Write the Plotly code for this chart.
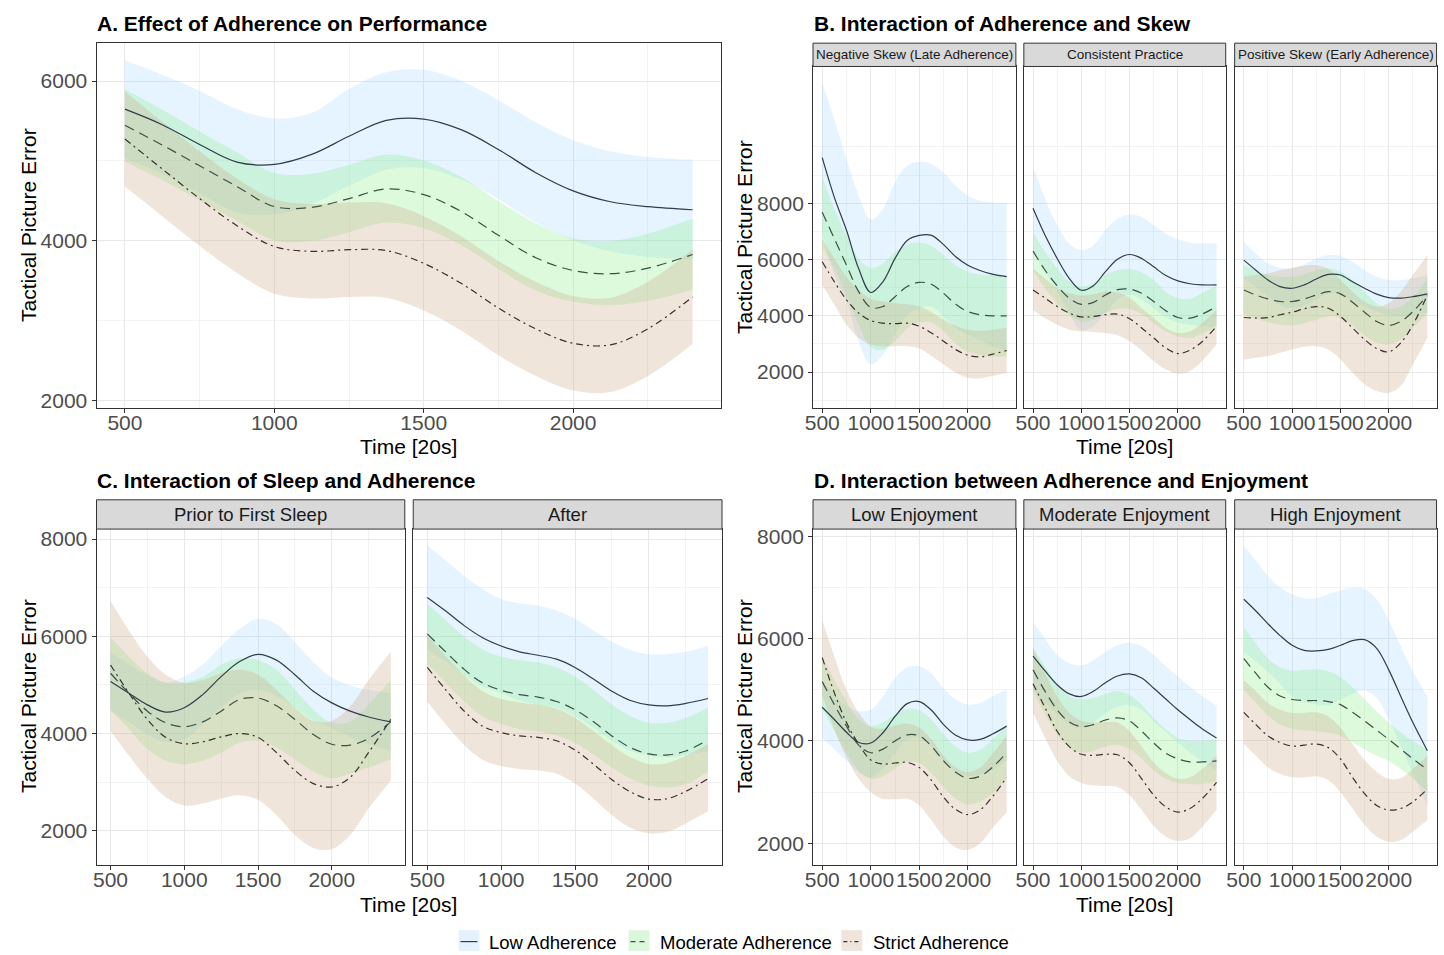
import plotly.graph_objects as go

W, H = 1444, 955

# ---------------- data ----------------
X = [500, 625, 750, 875, 1000, 1125, 1250, 1375, 1500, 1625, 1750, 1875, 2000, 2125, 2250, 2400]
SERIES = ["Low Adherence", "Moderate Adherence", "Strict Adherence"]
X_TICKS = [500, 1000, 1500, 2000]

# Panel A
A_low_fit = [5648, 5454, 5206, 4986, 4957, 5082, 5309, 5508, 5524, 5392, 5144, 4854, 4626, 4490, 4428, 4390]
A_low_hi = [6261, 6080, 5880, 5650, 5530, 5600, 5900, 6110, 6140, 6000, 5760, 5480, 5260, 5120, 5050, 5020]
A_low_lo = [5030, 4840, 4590, 4360, 4330, 4460, 4690, 4890, 4910, 4770, 4520, 4230, 4010, 3870, 3800, 3770]
A_mod_fit = [5446, 5200, 4940, 4680, 4430, 4420, 4530, 4650, 4580, 4370, 4070, 3790, 3630, 3590, 3660, 3830]
A_mod_hi = [5897, 5640, 5370, 5110, 4850, 4840, 4950, 5080, 5010, 4800, 4500, 4220, 4030, 4000, 4090, 4280]
A_mod_lo = [4990, 4760, 4510, 4250, 4010, 4000, 4110, 4230, 4160, 3950, 3650, 3380, 3240, 3200, 3250, 3390]
A_str_fit = [5276, 4900, 4530, 4190, 3930, 3870, 3890, 3880, 3720, 3470, 3160, 2900, 2720, 2700, 2900, 3300]
A_str_hi = [5870, 5490, 5120, 4780, 4520, 4460, 4480, 4470, 4310, 4060, 3750, 3490, 3310, 3290, 3490, 3890]
A_str_lo = [4680, 4310, 3940, 3600, 3340, 3280, 3300, 3290, 3130, 2880, 2570, 2310, 2130, 2110, 2310, 2710]

# Panel B - Negative Skew (Late Adherence)
B1_low_fit = [9620, 8210, 7040, 5680, 4830, 5210, 6040, 6680, 6860, 6860, 6530, 6100, 5800, 5610, 5480, 5390]
B1_low_hi = [12270, 10980, 9560, 8270, 7420, 7800, 8740, 9330, 9470, 9390, 9090, 8620, 8270, 8090, 8030, 8010]
B1_low_lo = [6970, 5440, 4520, 3090, 2280, 2620, 3340, 4030, 4250, 4330, 3970, 3580, 3330, 3130, 2930, 2770]
B1_mod_fit = [7680, 6740, 5800, 4860, 4300, 4330, 4680, 5040, 5190, 5120, 4800, 4410, 4150, 4040, 4000, 4000]
B1_mod_hi = [8920, 7800, 6860, 6040, 5710, 5860, 6270, 6530, 6600, 6480, 6150, 5800, 5570, 5470, 5450, 5450]
B1_mod_lo = [6440, 5680, 4740, 3680, 2890, 2800, 3090, 3550, 3780, 3760, 3450, 3020, 2730, 2610, 2550, 2550]
B1_str_fit = [5920, 5210, 4570, 4100, 3830, 3740, 3720, 3740, 3630, 3390, 3100, 2800, 2600, 2540, 2630, 2770]
B1_str_hi = [6740, 6040, 5390, 4920, 4600, 4510, 4450, 4410, 4330, 4130, 3860, 3650, 3510, 3470, 3510, 3580]
B1_str_lo = [5100, 4390, 3680, 3210, 2980, 2920, 2920, 2920, 2840, 2570, 2270, 1980, 1800, 1770, 1860, 1980]

# Panel B - Consistent Practice
B2_low_fit = [7820, 6860, 6040, 5330, 4910, 5070, 5570, 6010, 6180, 6040, 5740, 5430, 5240, 5140, 5100, 5100]
B2_low_hi = [9300, 8150, 7210, 6570, 6330, 6510, 7040, 7450, 7600, 7510, 7210, 6920, 6720, 6600, 6570, 6570]
B2_low_lo = [6340, 5570, 4870, 4090, 3490, 3630, 4100, 4570, 4760, 4570, 4270, 3940, 3760, 3680, 3630, 3630]
B2_mod_fit = [6300, 5620, 5070, 4630, 4410, 4480, 4740, 4930, 4950, 4800, 4510, 4180, 3940, 3920, 4060, 4330]
B2_mod_hi = [6980, 6270, 5680, 5210, 5040, 5150, 5470, 5620, 5660, 5540, 5270, 4860, 4630, 4600, 4800, 5100]
B2_mod_lo = [5620, 4980, 4450, 4040, 3800, 3860, 4100, 4250, 4250, 4060, 3740, 3450, 3270, 3210, 3360, 3620]
B2_str_fit = [4920, 4630, 4330, 4100, 3960, 3980, 4040, 4060, 3900, 3570, 3210, 2860, 2660, 2780, 3080, 3630]
B2_str_hi = [5680, 5330, 4980, 4800, 4720, 4770, 4860, 4830, 4630, 4270, 3920, 3570, 3390, 3450, 3740, 4210]
B2_str_lo = [4210, 3920, 3680, 3510, 3450, 3430, 3390, 3310, 3100, 2770, 2390, 2100, 1940, 2040, 2390, 2980]

# Panel B - Positive Skew (Early Adherence)
B3_low_fit = [5980, 5620, 5270, 5040, 4980, 5100, 5310, 5470, 5450, 5210, 4980, 4770, 4650, 4630, 4680, 4780]
B3_low_hi = [6620, 6210, 5860, 5710, 5680, 5830, 6040, 6150, 6130, 5920, 5620, 5390, 5270, 5270, 5330, 5450]
B3_low_lo = [5340, 5030, 4680, 4370, 4280, 4370, 4580, 4790, 4770, 4500, 4340, 4150, 4030, 3990, 4030, 4110]
B3_mod_fit = [4920, 4740, 4600, 4510, 4510, 4600, 4740, 4860, 4780, 4480, 4130, 3800, 3660, 3800, 4150, 4720]
B3_mod_hi = [5800, 5620, 5450, 5390, 5390, 5470, 5620, 5680, 5570, 5270, 4860, 4450, 4250, 4330, 4680, 5330]
B3_mod_lo = [4040, 3900, 3780, 3680, 3660, 3740, 3860, 3980, 3920, 3660, 3310, 3040, 2980, 3160, 3570, 4100]
B3_str_fit = [3940, 3920, 3940, 4040, 4130, 4250, 4330, 4270, 3980, 3570, 3160, 2840, 2720, 3040, 3680, 4740]
B3_str_hi = [5390, 5450, 5510, 5620, 5710, 5780, 5800, 5660, 5270, 4860, 4510, 4330, 4450, 4860, 5450, 6150]
B3_str_lo = [2450, 2510, 2570, 2690, 2800, 2900, 2920, 2800, 2450, 1980, 1570, 1330, 1270, 1510, 2270, 3210]

# Panel C - Prior to First Sleep
C1_low_fit = [5070, 4830, 4590, 4440, 4530, 4800, 5170, 5480, 5630, 5510, 5210, 4870, 4630, 4460, 4340, 4240]
C1_low_hi = [5680, 5430, 5200, 5060, 5170, 5420, 5800, 6150, 6360, 6250, 5880, 5470, 5150, 4990, 4900, 4830]
C1_low_lo = [4460, 4230, 3980, 3820, 3890, 4180, 4540, 4810, 4900, 4770, 4540, 4270, 4110, 3930, 3780, 3650]
C1_mod_fit = [5240, 4830, 4460, 4220, 4140, 4240, 4460, 4700, 4730, 4570, 4290, 3980, 3780, 3760, 3900, 4240]
C1_mod_hi = [5990, 5580, 5240, 5040, 5050, 5170, 5410, 5550, 5510, 5310, 4900, 4490, 4220, 4240, 4590, 5100]
C1_mod_lo = [4490, 4090, 3680, 3440, 3370, 3440, 3610, 3810, 3850, 3710, 3460, 3220, 3080, 3170, 3300, 3470]
C1_str_fit = [5410, 4830, 4290, 3920, 3790, 3830, 3930, 4000, 3920, 3610, 3240, 2970, 2900, 3100, 3610, 4290]
C1_str_hi = [6730, 6120, 5580, 5210, 5040, 5100, 5240, 5310, 5210, 4900, 4530, 4260, 4260, 4560, 5100, 5680]
C1_str_lo = [4050, 3540, 3070, 2690, 2520, 2560, 2660, 2730, 2630, 2320, 1910, 1640, 1620, 1910, 2460, 3030]

# Panel C - After
C2_low_fit = [6800, 6520, 6220, 5970, 5800, 5680, 5610, 5530, 5360, 5120, 4870, 4680, 4590, 4570, 4620, 4720]
C2_low_hi = [7870, 7560, 7240, 6970, 6770, 6680, 6630, 6530, 6360, 6120, 5890, 5720, 5630, 5630, 5680, 5800]
C2_low_lo = [5730, 5480, 5200, 4970, 4830, 4680, 4590, 4530, 4360, 4120, 3850, 3640, 3550, 3510, 3560, 3640]
C2_mod_fit = [6050, 5680, 5320, 5040, 4890, 4800, 4750, 4660, 4490, 4240, 3950, 3710, 3580, 3560, 3640, 3870]
C2_mod_hi = [6670, 6330, 5990, 5730, 5580, 5510, 5460, 5360, 5170, 4900, 4590, 4360, 4220, 4220, 4320, 4530]
C2_mod_lo = [5440, 5040, 4660, 4350, 4200, 4090, 4040, 3960, 3810, 3570, 3300, 3070, 2930, 2890, 2960, 3210]
C2_str_fit = [5360, 4900, 4460, 4150, 4020, 3950, 3920, 3850, 3660, 3370, 3050, 2800, 2650, 2660, 2810, 3070]
C2_str_hi = [6020, 5590, 5190, 4870, 4710, 4640, 4590, 4510, 4320, 4050, 3760, 3510, 3370, 3390, 3540, 3780]
C2_str_lo = [4660, 4190, 3760, 3460, 3330, 3270, 3240, 3170, 2970, 2660, 2320, 2060, 1950, 1980, 2150, 2400]

# Panel D - Low Enjoyment
D1_low_fit = [4660, 4420, 4170, 3970, 3960, 4160, 4480, 4730, 4770, 4600, 4320, 4110, 4020, 4030, 4130, 4290]
D1_low_hi = [5190, 4900, 4680, 4580, 4610, 4870, 5230, 5440, 5460, 5320, 5030, 4810, 4710, 4740, 4870, 5000]
D1_low_lo = [4060, 3840, 3610, 3390, 3290, 3450, 3770, 4030, 4060, 3890, 3610, 3400, 3320, 3340, 3450, 3610]
D1_mod_fit = [5160, 4710, 4290, 3920, 3770, 3840, 4000, 4120, 4100, 3900, 3610, 3390, 3270, 3310, 3480, 3770]
D1_mod_hi = [5650, 5190, 4770, 4420, 4290, 4360, 4520, 4630, 4600, 4420, 4130, 3890, 3770, 3830, 4020, 4300]
D1_mod_lo = [4650, 4190, 3770, 3420, 3260, 3310, 3460, 3590, 3570, 3370, 3100, 2870, 2760, 2810, 2970, 3260]
D1_str_fit = [5630, 4940, 4360, 3940, 3630, 3550, 3570, 3580, 3480, 3230, 2900, 2660, 2560, 2650, 2900, 3290]
D1_str_hi = [6360, 5650, 5000, 4550, 4280, 4240, 4300, 4340, 4260, 4030, 3710, 3480, 3390, 3480, 3740, 4100]
D1_str_lo = [4900, 4230, 3680, 3260, 3000, 2870, 2860, 2870, 2740, 2450, 2130, 1920, 1870, 2000, 2290, 2600]

# Panel D - Moderate Enjoyment
D2_low_fit = [5660, 5370, 5100, 4920, 4870, 4970, 5140, 5270, 5310, 5230, 5030, 4820, 4610, 4420, 4240, 4060]
D2_low_hi = [6320, 6000, 5680, 5520, 5480, 5580, 5740, 5870, 5920, 5850, 5680, 5460, 5260, 5060, 4880, 4690]
D2_low_lo = [5000, 4740, 4520, 4320, 4260, 4360, 4540, 4670, 4700, 4610, 4380, 4180, 3960, 3780, 3600, 3430]
D2_mod_fit = [5390, 4970, 4610, 4370, 4280, 4320, 4410, 4450, 4390, 4190, 3960, 3760, 3650, 3590, 3590, 3610]
D2_mod_hi = [5830, 5450, 5120, 4880, 4810, 4840, 4920, 4970, 4900, 4710, 4450, 4230, 4060, 4000, 4000, 4030]
D2_mod_lo = [4970, 4520, 4130, 3870, 3770, 3810, 3890, 3920, 3850, 3650, 3420, 3260, 3180, 3160, 3160, 3210]
D2_str_fit = [5120, 4650, 4190, 3890, 3740, 3720, 3740, 3730, 3570, 3260, 2940, 2710, 2610, 2680, 2870, 3190]
D2_str_hi = [5810, 5320, 4870, 4550, 4390, 4360, 4370, 4360, 4190, 3890, 3580, 3370, 3260, 3290, 3450, 3710]
D2_str_lo = [4550, 4060, 3610, 3310, 3180, 3130, 3120, 3100, 2940, 2650, 2340, 2130, 2050, 2100, 2320, 2650]

# Panel D - High Enjoyment
D3_low_fit = [6770, 6540, 6290, 6060, 5870, 5770, 5760, 5790, 5870, 5960, 5980, 5810, 5390, 4870, 4360, 3810]
D3_low_hi = [7810, 7520, 7230, 7000, 6870, 6790, 6790, 6870, 6940, 6990, 6970, 6770, 6360, 5840, 5360, 4870]
D3_low_lo = [5740, 5550, 5350, 5130, 4870, 4760, 4720, 4700, 4810, 4920, 4990, 4840, 4420, 3900, 3360, 2740]
D3_mod_fit = [5610, 5320, 5050, 4880, 4810, 4790, 4790, 4770, 4710, 4560, 4390, 4210, 4030, 3840, 3650, 3440]
D3_mod_hi = [6230, 5900, 5610, 5440, 5370, 5390, 5400, 5360, 5250, 5050, 4820, 4580, 4360, 4170, 4000, 3840]
D3_mod_lo = [5000, 4740, 4500, 4320, 4240, 4210, 4190, 4160, 4100, 3970, 3840, 3710, 3610, 3450, 3270, 3000]
D3_str_fit = [4560, 4320, 4100, 3970, 3900, 3920, 3940, 3870, 3650, 3290, 2970, 2740, 2650, 2680, 2810, 3060]
D3_str_hi = [5190, 4970, 4740, 4610, 4550, 4550, 4560, 4480, 4260, 3940, 3630, 3400, 3260, 3270, 3450, 3710]
D3_str_lo = [3940, 3710, 3480, 3360, 3290, 3290, 3310, 3230, 3000, 2680, 2360, 2130, 2030, 2060, 2230, 2450]

# ---------------- styling ----------------
FONT = "Liberation Sans, Arial, Helvetica, sans-serif"
FILL = ["rgba(135,206,250,0.22)", "rgba(144,238,144,0.30)", "rgba(205,170,135,0.30)"]
LINE_COL = ["#2f3d4c", "#3a5242", "#3a302a"]
LINE_DASH = ["solid", "10px,6px", "7px,4px,2px,4px"]
TICK_SIZE = 21

panels = [
    ([(A_low_fit, A_low_lo, A_low_hi), (A_mod_fit, A_mod_lo, A_mod_hi), (A_str_fit, A_str_lo, A_str_hi)],
     (89, 717), (39, 407.5), (1909, 6480), [2000, 4000, 6000], [3000, 5000], True),
    ([(B1_low_fit, B1_low_lo, B1_low_hi), (B1_mod_fit, B1_mod_lo, B1_mod_hi), (B1_str_fit, B1_str_lo, B1_str_hi)],
     (809.5, 1013.5), (63, 407), (740, 12860), [2000, 4000, 6000, 8000], [1000, 3000, 5000, 7000, 9000, 10000], True),
    ([(B2_low_fit, B2_low_lo, B2_low_hi), (B2_mod_fit, B2_mod_lo, B2_mod_hi), (B2_str_fit, B2_str_lo, B2_str_hi)],
     (1021.5, 1224.5), (63, 407), (740, 12860), [2000, 4000, 6000, 8000], [1000, 3000, 5000, 7000, 9000, 10000], False),
    ([(B3_low_fit, B3_low_lo, B3_low_hi), (B3_mod_fit, B3_mod_lo, B3_mod_hi), (B3_str_fit, B3_str_lo, B3_str_hi)],
     (1233.5, 1436.5), (63, 407), (740, 12860), [2000, 4000, 6000, 8000], [1000, 3000, 5000, 7000, 9000, 10000], False),
    ([(C1_low_fit, C1_low_lo, C1_low_hi), (C1_mod_fit, C1_mod_lo, C1_mod_hi), (C1_str_fit, C1_str_lo, C1_str_hi)],
     (89, 399), (529.5, 868), (1300, 8207), [2000, 4000, 6000, 8000], [3000, 5000, 7000], True),
    ([(C2_low_fit, C2_low_lo, C2_low_hi), (C2_mod_fit, C2_mod_lo, C2_mod_hi), (C2_str_fit, C2_str_lo, C2_str_hi)],
     (407.5, 718), (529.5, 868), (1300, 8207), [2000, 4000, 6000, 8000], [3000, 5000, 7000], False),
    ([(D1_low_fit, D1_low_lo, D1_low_hi), (D1_mod_fit, D1_mod_lo, D1_mod_hi), (D1_str_fit, D1_str_lo, D1_str_hi)],
     (809.5, 1013.5), (529.5, 868), (1581, 8142), [2000, 4000, 6000, 8000], [3000, 5000, 7000], True),
    ([(D2_low_fit, D2_low_lo, D2_low_hi), (D2_mod_fit, D2_mod_lo, D2_mod_hi), (D2_str_fit, D2_str_lo, D2_str_hi)],
     (1021.5, 1224.5), (529.5, 868), (1581, 8142), [2000, 4000, 6000, 8000], [3000, 5000, 7000], False),
    ([(D3_low_fit, D3_low_lo, D3_low_hi), (D3_mod_fit, D3_mod_lo, D3_mod_hi), (D3_str_fit, D3_str_lo, D3_str_hi)],
     (1233.5, 1436.5), (529.5, 868), (1581, 8142), [2000, 4000, 6000, 8000], [3000, 5000, 7000], False),
]

def px(xp):
    return xp / W

def py(yp):
    return 1 - yp / H

fig = go.Figure()
layout = {}
for i, (series, xr, yr, yrange, ymaj, ymin, ylab) in enumerate(panels, start=1):
    sx = "x" if i == 1 else f"x{i}"
    sy = "y" if i == 1 else f"y{i}"
    for k, (fit, lo, hi) in enumerate(series):
        fig.add_trace(go.Scatter(x=X, y=lo, xaxis=sx, yaxis=sy, mode="lines",
                                 line=dict(width=0, shape="spline", smoothing=1.0),
                                 showlegend=False, hoverinfo="skip"))
        fig.add_trace(go.Scatter(x=X, y=hi, xaxis=sx, yaxis=sy, mode="lines",
                                 line=dict(width=0, shape="spline", smoothing=1.0),
                                 fill="tonexty", fillcolor=FILL[k],
                                 showlegend=False, hoverinfo="skip"))
    for k, (fit, lo, hi) in enumerate(series):
        fig.add_trace(go.Scatter(x=X, y=fit, xaxis=sx, yaxis=sy, mode="lines", name=SERIES[k],
                                 line=dict(width=1.2, color=LINE_COL[k], dash=LINE_DASH[k],
                                           shape="spline", smoothing=1.0),
                                 showlegend=False))
    xa = "xaxis" if i == 1 else f"xaxis{i}"
    ya = "yaxis" if i == 1 else f"yaxis{i}"
    layout[xa] = dict(domain=[px(xr[0]), px(xr[1])], anchor=sy, range=[405, 2495],
                      tickmode="array", tickvals=X_TICKS, ticktext=[str(v) for v in X_TICKS],
                      tickangle=0, ticks="outside", ticklen=4, tickcolor="#333333",
                      ticklabelstandoff=-8,
                      tickfont=dict(size=TICK_SIZE, color="#4d4d4d", family=FONT),
                      showline=True, mirror=True, linecolor="#333333", linewidth=1,
                      showgrid=True, gridcolor="#e8e8e8", gridwidth=1.1, zeroline=False,
                      minor=dict(tickvals=[750, 1250, 1750, 2250], showgrid=True,
                                 gridcolor="#f3f3f3", gridwidth=0.7),
                      fixedrange=True)
    layout[ya] = dict(domain=[py(yr[1]), py(yr[0])], anchor=sx, range=list(yrange),
                      tickmode="array", tickvals=ymaj, ticktext=[str(v) for v in ymaj],
                      showticklabels=ylab, ticks="outside" if ylab else "", ticklen=4,
                      tickcolor="#333333",
                      tickfont=dict(size=TICK_SIZE, color="#4d4d4d", family=FONT),
                      showline=True, mirror=True, linecolor="#333333", linewidth=1,
                      showgrid=True, gridcolor="#e8e8e8", gridwidth=1.1, zeroline=False,
                      minor=dict(tickvals=ymin, showgrid=True, gridcolor="#f3f3f3", gridwidth=0.7),
                      fixedrange=True)

shapes = []
annotations = []

strips = [
    ((809.5, 1013.5), (39.5, 63), "Negative Skew (Late Adherence)", 13.5),
    ((1021.5, 1224.5), (39.5, 63), "Consistent Practice", 13.5),
    ((1233.5, 1436.5), (39.5, 63), "Positive Skew (Early Adherence)", 13.5),
    ((89, 399), (500, 529.5), "Prior to First Sleep", 18.5),
    ((407.5, 718), (500, 529.5), "After", 18.5),
    ((809.5, 1013.5), (500, 529.5), "Low Enjoyment", 18.5),
    ((1021.5, 1224.5), (500, 529.5), "Moderate Enjoyment", 18.5),
    ((1233.5, 1436.5), (500, 529.5), "High Enjoyment", 18.5),
]
for (x0, x1), (y0, y1), txt, fs in strips:
    shapes.append(dict(type="rect", xref="paper", yref="paper", x0=px(x0), x1=px(x1),
                       y0=py(y1), y1=py(y0), fillcolor="#d9d9d9",
                       line=dict(color="#333333", width=1), layer="above"))
    annotations.append(dict(xref="paper", yref="paper", x=px((x0 + x1) / 2), y=py((y0 + y1) / 2),
                            text=txt, showarrow=False, xanchor="center", yanchor="middle",
                            font=dict(size=fs, color="#1a1a1a", family=FONT)))

titles = [
    (87, 20, "A. Effect of Adherence on Performance"),
    (808, 20, "B. Interaction of Adherence and Skew"),
    (87, 481, "C. Interaction of Sleep and Adherence"),
    (808, 481, "D. Interaction between Adherence and Enjoyment"),
]
for xp, yp, txt in titles:
    annotations.append(dict(xref="paper", yref="paper", x=px(xp), y=py(yp), text=f"<b>{txt}</b>",
                            showarrow=False, xanchor="left", yanchor="middle",
                            font=dict(size=21, color="#000000", family=FONT)))

for xp, yp in [(20, 223), (740, 235), (20, 698), (740, 698)]:
    annotations.append(dict(xref="paper", yref="paper", x=px(xp), y=py(yp), text="Tactical Picture Error",
                            textangle=-90, showarrow=False, xanchor="center", yanchor="middle",
                            font=dict(size=21, color="#000000", family=FONT)))
for xp, yp in [(403, 446), (1123, 446), (403, 908), (1123, 908)]:
    annotations.append(dict(xref="paper", yref="paper", x=px(xp), y=py(yp), text="Time [20s]",
                            showarrow=False, xanchor="center", yanchor="middle",
                            font=dict(size=21, color="#000000", family=FONT)))

LEG_KEYS = [(453, 482), (624, 654), (838, 868)]
LEG_FILL = ["#e3f2fd", "#dcf8dc", "#efe5dc"]
for k, (kx, tx) in enumerate(LEG_KEYS):
    shapes.append(dict(type="rect", xref="paper", yref="paper", x0=px(kx), x1=px(kx + 21),
                       y0=py(955), y1=py(934), fillcolor=LEG_FILL[k], line=dict(width=0)))
    shapes.append(dict(type="line", xref="paper", yref="paper", x0=px(kx + 2), x1=px(kx + 19),
                       y0=py(945.5), y1=py(945.5),
                       line=dict(color=LINE_COL[k], width=1.2,
                                 dash=["solid", "5px,4px", "4px,3px,1px,3px"][k])))
    annotations.append(dict(xref="paper", yref="paper", x=px(tx), y=py(946), text=SERIES[k],
                            showarrow=False, xanchor="left", yanchor="middle",
                            font=dict(size=18.5, color="#000000", family=FONT)))

fig.update_layout(width=W, height=H, margin=dict(l=0, r=0, t=0, b=0),
                  paper_bgcolor="white", plot_bgcolor="white", showlegend=False,
                  shapes=shapes, annotations=annotations, **layout)

fig.write_html("out.html")
